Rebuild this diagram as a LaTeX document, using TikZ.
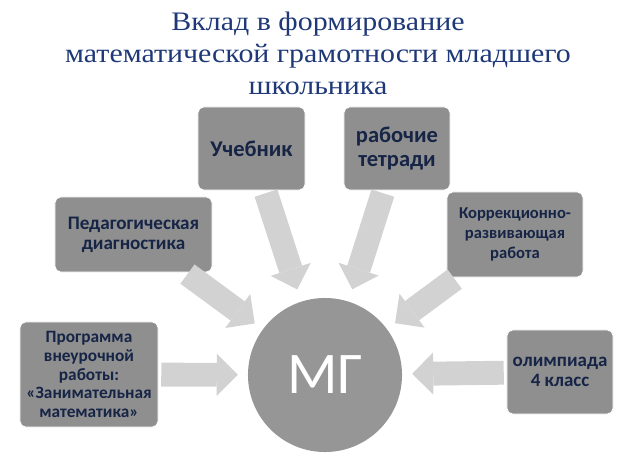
\documentclass[tikz,border=0pt]{standalone}
\usepackage{fontspec}
\usepackage{tikz}
\usetikzlibrary{arrows.meta, calc}
\usepackage{xcolor}
\newfontfamily\titlefont[FakeStretch=1.12]{Liberation Serif}
\newfontfamily\boxfont{Carlito}
\definecolor{titleblue}{RGB}{31, 56, 120}
\definecolor{boxgray}{RGB}{143, 143, 143}
\definecolor{boxtext}{RGB}{22, 36, 70}
\definecolor{arrowgray}{RGB}{210, 210, 210}
\definecolor{circlegray}{RGB}{150, 150, 150}

\begin{document}
\begin{tikzpicture}[x=0.025cm, y=-0.025cm,
  srcbox/.style={fill=boxgray, draw=white, line width=0.6pt, rounded corners=4pt,
    text=boxtext, align=center, inner sep=2pt},
  feed/.style={draw=arrowgray, line width=17pt, shorten <=2pt, shorten >=7pt,
    -{Triangle[length=15pt, width=30pt, line width=0pt]}}]

  \useasboundingbox (0,0) rectangle (640,467);

  % Heading
  \node[text=titleblue, align=center, font=\titlefont\fontsize{19}{22.7}\selectfont]
    (title) at (318,53) {Вклад в формирование\\математической грамотности младшего\\школьника};

  % Sources round the centre
  \node[srcbox, minimum width=2.675cm, minimum height=2.075cm,
    font=\boxfont\bfseries\fontsize{16}{17}\selectfont] (ucheb) at (251.5,148.5) {Учебник};
  \node[srcbox, minimum width=2.65cm, minimum height=2.075cm,
    font=\boxfont\bfseries\fontsize{16}{17}\selectfont] (tetr) at (397,148.5) {рабочие\\тетради};
  \node[srcbox, minimum width=3.4cm, minimum height=2.125cm,
    font=\boxfont\bfseries\fontsize{11.8}{14}\selectfont] (korr) at (515,234.5) {Коррекционно-\\развивающая\\работа};
  \node[srcbox, minimum width=2.65cm, minimum height=2.1cm,
    font=\boxfont\bfseries\fontsize{13.5}{14.5}\selectfont] (olimp) at (560,372) {олимпиада\\4 класс};
  \node[srcbox, minimum width=3.925cm, minimum height=1.875cm,
    font=\boxfont\bfseries\fontsize{13.6}{14}\selectfont] (pedag) at (133.5,234.5) {Педагогическая\\диагностика};
  \node[srcbox, minimum width=3.45cm, minimum height=2.625cm,
    font=\boxfont\bfseries\fontsize{12.3}{13.3}\selectfont] (progr) at (89,374.5)
    {Программа\\внеурочной\\работы:\\«Занимательная\\математика»};

  % Centre circle
  \node[circle, fill=circlegray, minimum size=3.85cm, inner sep=0pt, text=white,
    font=\boxfont\fontsize{42}{42}\selectfont] (mg) at (325,375) {МГ};

  % Block arrows into the circle
  \draw[feed] (progr) -- (mg);
  \draw[feed] (pedag) -- (mg);
  \draw[feed, shorten >=9pt] (ucheb) -- (mg);
  \draw[feed, shorten >=9pt] (tetr) -- (mg);
  \draw[feed] (korr) -- (mg);
  \draw[feed] (olimp) -- (mg);

\end{tikzpicture}
\end{document}
